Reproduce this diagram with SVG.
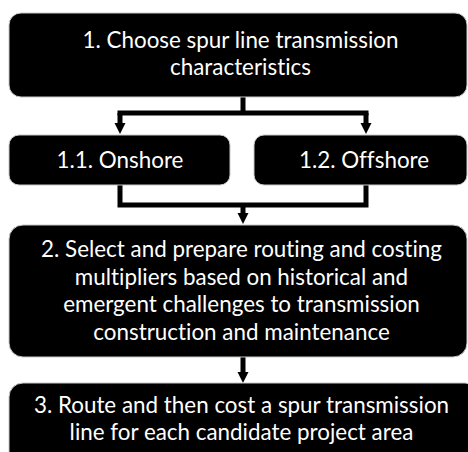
<svg xmlns="http://www.w3.org/2000/svg" width="468" height="452" viewBox="0 0 468 452">
<defs>
<style>
.box{fill:#000;stroke:#c8c8c8;stroke-width:1}
.t{fill:#fff;font-family:Lato,"Open Sans","Liberation Sans",sans-serif;font-size:22.4px;text-anchor:middle;font-variant-ligatures:none}
.c{fill:none;stroke:#000;stroke-width:5}
</style>
</defs>
<rect width="468" height="452" fill="#fff"/>
<g id="connectors">
<path class="c" d="M243,97 V113 M117.5,113 H368.5"/>
<path d="M120,113 V124" class="c"/>
<polygon points="114.5,123 125.5,123 120,134" fill="#000"/>
<path d="M366,113 V124" class="c"/>
<polygon points="360.5,123 371.5,123 366,134" fill="#000"/>
<path class="c" d="M120,185 V205 M366,185 V205 M117.5,205 H368.5"/>
<path class="c" d="M243,205 V214"/>
<polygon points="237.5,213 248.5,213 243,224" fill="#000"/>
<path class="c" d="M243,357 V373"/>
<polygon points="237.5,372 248.5,372 243,383" fill="#000"/>
</g>
<g id="n1">
<rect class="box" x="9" y="13" width="458" height="84" rx="12"/>
<text class="t" x="240.5" y="48">1. Choose spur line transmission</text>
<text class="t" x="240.5" y="75">characteristics</text>
</g>
<g id="n11">
<rect class="box" x="9" y="135" width="221" height="50" rx="10"/>
<text class="t" x="120" y="168">1.1. Onshore</text>
</g>
<g id="n12">
<rect class="box" x="254" y="135" width="213" height="50" rx="10"/>
<text class="t" x="364" y="168">1.2. Offshore</text>
</g>
<g id="n2">
<rect class="box" x="9" y="225" width="458" height="132" rx="14"/>
<text class="t" x="241.5" y="257">2. Select and prepare routing and costing</text>
<text class="t" x="241.5" y="285">multipliers based on historical and</text>
<text class="t" x="241.5" y="312">emergent challenges to transmission</text>
<text class="t" x="241.5" y="340">construction and maintenance</text>
</g>
<g id="n3">
<rect class="box" x="9" y="383" width="470" height="90" rx="14"/>
<text class="t" x="241.5" y="413">3. Route and then cost a spur transmission</text>
<text class="t" x="241.5" y="440">line for each candidate project area</text>
</g>
</svg>
